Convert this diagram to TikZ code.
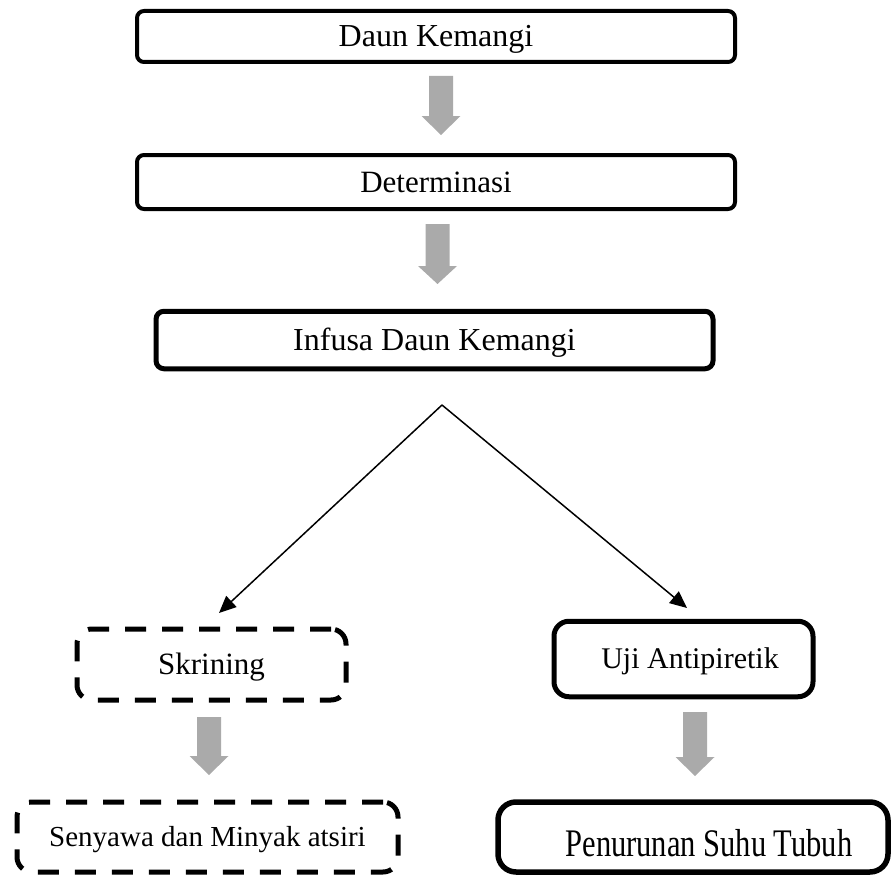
\documentclass[tikz,border=0pt]{standalone}
\usepackage{fontspec}
\setmainfont{Liberation Serif}
\usetikzlibrary{arrows.meta}
\definecolor{arrowgray}{RGB}{170,170,170}
\newcommand\grayarrow[4]{%
  \fill[arrowgray] (#1-12,#2) -- (#1+12,#2) -- (#1+12,#3) -- (#1+19.5,#3)
    -- (#1,#4) -- (#1-19.5,#3) -- (#1-12,#3) -- cycle;}
\begin{document}
\begin{tikzpicture}[x=1pt,y=-1pt,
  box/.style={draw=black, line width=4.5pt, rounded corners=7pt, fill=white,
    inner sep=0pt, text height=19.9pt, text depth=0pt,
    font=\fontsize{30}{36}\selectfont},
  dbox/.style={box, dash pattern=on 21pt off 16pt, line width=5pt, rounded corners=15pt},
  conn/.style={draw=black, line width=1.5pt, -{Triangle[length=17pt,width=15pt]}}]
\useasboundingbox (0,0) rectangle (892,875);

\node[box, line width=4pt, minimum width=598pt, minimum height=51pt, font=\fontsize{32}{38}\selectfont, text height=21pt] (b1) at (436,36.5) {Daun Kemangi};
\node[box, line width=4pt, minimum width=598pt, minimum height=54pt, font=\fontsize{31}{37}\selectfont, text height=20.5pt] (b2) at (436,182) {Determinasi};
\node[box, line width=5pt, rounded corners=8pt, minimum width=557pt, minimum height=57.5pt, font=\fontsize{32}{38}\selectfont, text height=21pt] (b3) at (434.5,340) {Infusa Daun Kemangi};

\node[dbox, minimum width=269pt, minimum height=71pt, font=\fontsize{31}{37}\selectfont, text height=20.5pt] (skr) at (211.5,664.5) {Skrining};
\node[box, line width=5pt, rounded corners=15pt, minimum width=259pt, minimum height=75.5pt] (uji) at (683.5,659) {\hspace*{13pt}Uji Antipiretik};
\node[dbox, minimum width=381pt, minimum height=70pt, font=\fontsize{29}{34}\selectfont, text height=19.2pt] (sen) at (207.5,837) {Senyawa dan Minyak atsiri};
\node[box, line width=5.5pt, rounded corners=18pt, minimum width=390pt, minimum height=70pt] (pen) at (693,837) {};
\node[inner sep=0pt, font=\fontsize{30.5}{36}\selectfont, text height=25.8pt, text depth=0pt] (pentxt) at (709,844) {\scalebox{1}[1.28]{Penurunan Suhu Tubuh}};

\grayarrow{441}{76}{116}{135}
\grayarrow{437.5}{224}{266}{284}
\grayarrow{209}{717}{756}{775}
\grayarrow{695}{712}{757}{776}

\coordinate (apex) at (442,405);
\coordinate (lt) at (219,613);
\coordinate (rt) at (687,608);
\draw[conn] (apex) -- (lt);
\draw[conn] (apex) -- (rt);
\end{tikzpicture}
\end{document}
